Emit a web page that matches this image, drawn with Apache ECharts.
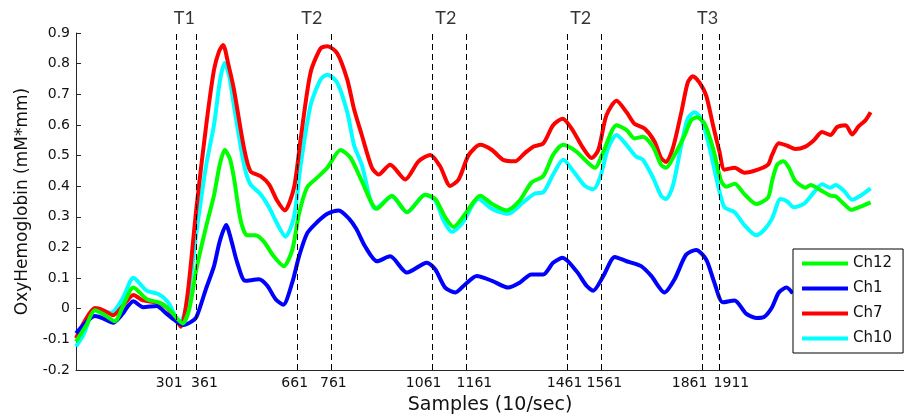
<!DOCTYPE html>
<html>
<head>
<meta charset="utf-8">
<script src="https://cdn.jsdelivr.net/npm/echarts@6/dist/echarts.min.js"></script>
<style>html,body{margin:0;padding:0;background:#fff}#c{width:904px;height:420px}</style>
</head>
<body>
<div id="c"></div>
<script>
// ---- data ----
const eventTicks = [301, 361, 661, 761, 1061, 1161, 1461, 1561, 1861, 1911];
const taskNames = ['T1', 'T2', 'T2', 'T2', 'T3'];
const taskLabelX = [325, 703, 1100, 1500, 1876];
const seriesNames = ['Ch12', 'Ch1', 'Ch7', 'Ch10'];

const ch7X = [4,30,60,85,114,144,174,203,243,272,300,315,335,361,390,413,428,440,455,472,502,521,551,576,600,623,650,670,699,729,749,778,808,828,851,881,901,935,980,1019,1054,1083,1113,1138,1168,1202,1237,1270,1305,1334,1359,1389,1418,1446,1473,1507,1532,1552,1576,1606,1636,1659,1689,1719,1738,1753,1773,1798,1817,1832,1852,1872,1892,1911,1926,1956,1985,2025,2055,2067,2087,2112,2136,2166,2191,2215,2240,2260,2285,2304,2324,2344,2359];
const ch7Y = [-0.096,-0.04,0.002,-0.005,-0.021,0.011,0.045,0.027,0.021,0.005,-0.035,-0.059,0.05,0.33,0.60,0.78,0.84,0.861,0.80,0.716,0.524,0.449,0.433,0.406,0.353,0.321,0.395,0.556,0.770,0.85,0.857,0.834,0.748,0.652,0.567,0.460,0.438,0.470,0.422,0.481,0.502,0.465,0.401,0.422,0.502,0.535,0.518,0.486,0.481,0.508,0.529,0.540,0.599,0.620,0.588,0.524,0.492,0.518,0.631,0.679,0.641,0.604,0.588,0.545,0.492,0.479,0.524,0.641,0.738,0.759,0.738,0.695,0.599,0.513,0.454,0.460,0.444,0.454,0.470,0.502,0.540,0.532,0.521,0.529,0.550,0.577,0.567,0.593,0.599,0.569,0.596,0.615,0.641];

const ch12X = [4,35,60,90,119,144,174,213,253,282,320,340,361,390,413,430,445,460,472,492,511,536,561,590,620,645,665,689,719,749,788,818,851,896,940,985,1039,1069,1098,1123,1158,1202,1237,1280,1319,1354,1389,1418,1448,1487,1517,1542,1567,1606,1636,1659,1684,1714,1738,1753,1778,1808,1827,1845,1867,1892,1916,1931,1956,1985,2020,2055,2067,2082,2100,2117,2136,2166,2181,2211,2240,2255,2280,2301,2329,2359];
const ch12Y = [-0.107,-0.053,-0.005,-0.021,-0.041,0.011,0.069,0.032,0.019,-0.005,-0.048,0.0,0.13,0.27,0.37,0.47,0.518,0.49,0.428,0.289,0.240,0.240,0.219,0.171,0.139,0.192,0.310,0.396,0.428,0.460,0.518,0.492,0.417,0.326,0.369,0.315,0.372,0.358,0.299,0.267,0.310,0.369,0.342,0.321,0.353,0.412,0.433,0.502,0.535,0.513,0.481,0.460,0.513,0.599,0.583,0.556,0.561,0.529,0.470,0.460,0.502,0.567,0.615,0.625,0.604,0.524,0.417,0.398,0.408,0.374,0.342,0.363,0.417,0.470,0.481,0.460,0.417,0.395,0.404,0.387,0.369,0.367,0.342,0.323,0.333,0.347];

const ch10X = [4,26,60,85,109,144,174,213,248,277,312,335,361,390,413,430,444,458,472,502,521,551,576,600,625,650,670,699,729,749,778,808,828,851,891,940,985,1039,1069,1093,1118,1148,1197,1237,1285,1329,1364,1389,1418,1448,1478,1512,1537,1557,1581,1606,1636,1664,1684,1714,1738,1753,1773,1798,1817,1837,1857,1882,1906,1926,1956,1985,2020,2043,2067,2092,2112,2131,2161,2191,2215,2240,2255,2280,2304,2329,2359];
const ch10Y = [-0.123,-0.085,-0.005,-0.008,-0.013,0.037,0.101,0.059,0.048,0.021,-0.048,0.03,0.25,0.47,0.60,0.74,0.802,0.76,0.663,0.470,0.406,0.374,0.331,0.278,0.235,0.299,0.470,0.663,0.748,0.764,0.738,0.641,0.534,0.470,0.326,0.366,0.315,0.372,0.353,0.289,0.251,0.278,0.358,0.326,0.310,0.347,0.376,0.380,0.438,0.486,0.449,0.401,0.390,0.428,0.524,0.567,0.534,0.497,0.486,0.428,0.369,0.358,0.401,0.534,0.620,0.641,0.620,0.524,0.406,0.331,0.315,0.273,0.240,0.257,0.294,0.358,0.350,0.331,0.342,0.380,0.406,0.395,0.404,0.385,0.356,0.369,0.393];

const ch1X = [4,35,60,85,114,139,174,203,243,272,300,322,345,361,389,413,430,449,465,482,506,546,571,595,618,645,665,689,719,749,783,813,835,861,896,935,985,1044,1069,1098,1128,1158,1192,1237,1285,1319,1354,1389,1418,1446,1487,1517,1537,1567,1601,1636,1679,1709,1748,1778,1812,1842,1872,1896,1921,1956,1990,2020,2043,2067,2087,2110,2128];
const ch1Y = [-0.080,-0.043,-0.024,-0.032,-0.046,-0.021,0.024,0.005,0.009,-0.016,-0.040,-0.053,-0.043,-0.027,0.064,0.139,0.22,0.273,0.22,0.150,0.091,0.096,0.075,0.032,0.013,0.086,0.171,0.246,0.283,0.310,0.321,0.294,0.260,0.203,0.155,0.171,0.118,0.150,0.128,0.069,0.053,0.080,0.107,0.091,0.069,0.085,0.112,0.112,0.150,0.166,0.123,0.075,0.059,0.107,0.169,0.155,0.139,0.107,0.053,0.096,0.176,0.192,0.160,0.085,0.021,0.027,-0.016,-0.030,-0.027,0.005,0.053,0.069,0.05];

// ---- styling ----
const AX = '#262626';
const TXT = '#111';
const tickFont = 'DejaVu Sans';
const labelShift = {301:-7, 361:8, 661:-3, 761:2, 1061:-9, 1161:8, 1461:-3, 1561:3, 1861:-13, 1911:12};
const rich = {};
eventTicks.forEach(v => {
  const s = labelShift[v] || 0;
  rich['s' + v] = {
    fontFamily: tickFont, fontSize: 14, color: TXT,
    padding: s >= 0 ? [0, 0, 0, 2 * s] : [0, -2 * s, 0, 0]
  };
});

const zip = (xs, ys) => xs.map((x, i) => [x, ys[i]]);
function lineSeries(name, xs, ys, color) {
  return {
    name, type: 'line', data: zip(xs, ys), showSymbol: false, symbol: 'none',
    smooth: 0.25, color, lineStyle: { color, width: 4 }, itemStyle: { color },
    z: 2
  };
}

const chart = echarts.init(document.getElementById('c'), null, { renderer: 'canvas' });
chart.setOption({
  animation: false,
  backgroundColor: '#fff',
  grid: { left: 76, right: 0, top: 33, bottom: 44, containLabel: false },
  legend: {
    data: seriesNames, orient: 'vertical', left: 793, top: 249,
    itemWidth: 46, itemHeight: 4, itemGap: 10, icon: 'rect',
    padding: [7, 11, 7, 9], backgroundColor: '#fff', borderColor: '#000', borderWidth: 1,
    textStyle: { fontFamily: tickFont, fontSize: 15, color: TXT }
  },
  xAxis: {
    type: 'value', min: 4, max: 2458,
    axisLine: { show: true, onZero: false, lineStyle: { color: AX, width: 1 } },
    axisTick: { show: true, inside: true, length: 5, customValues: eventTicks, lineStyle: { color: AX } },
    axisLabel: { customValues: eventTicks, margin: 6, formatter: v => '{s' + v + '|' + v + '}', rich,
      fontFamily: tickFont, fontSize: 14, color: TXT },
    splitLine: { show: false },
    name: 'Samples (10/sec)', nameLocation: 'middle', nameGap: 26,
    nameTextStyle: { fontFamily: tickFont, fontSize: 19, color: TXT }
  },
  yAxis: {
    type: 'value', min: -0.2, max: 0.9, interval: 0.1,
    axisLine: { show: true, onZero: false, lineStyle: { color: AX, width: 1 } },
    axisTick: { show: true, inside: true, length: 5, lineStyle: { color: AX } },
    axisLabel: { margin: 6, fontFamily: tickFont, fontSize: 14, color: TXT },
    splitLine: { show: false },
    name: 'OxyHemoglobin (mM*mm)', nameLocation: 'middle', nameGap: 45,
    nameTextStyle: { fontFamily: tickFont, fontSize: 17, color: TXT }
  },
  series: [
    lineSeries('Ch10', ch10X, ch10Y, '#00FFFF'),
    lineSeries('Ch7', ch7X, ch7Y, '#FF0000'),
    lineSeries('Ch1', ch1X, ch1Y, '#0000FF'),
    lineSeries('Ch12', ch12X, ch12Y, '#00FF00'),
    {
      name: 'tasks', type: 'scatter', clip: false, symbolSize: 0, silent: true,
      data: taskLabelX.map((x, i) => ({ value: [x, 0.9], name: taskNames[i] })),
      label: { show: true, position: 'top', distance: 6, formatter: p => p.name,
        fontFamily: 'Lato', fontSize: 18, color: '#000' },
      markLine: {
        silent: true, symbol: ['none', 'none'], label: { show: false },
        lineStyle: { color: '#000', type: [6, 4], width: 1 },
        data: eventTicks.map(v => ({ xAxis: v }))
      },
      z: 1
    }
  ]
});
</script>
</body>
</html>
